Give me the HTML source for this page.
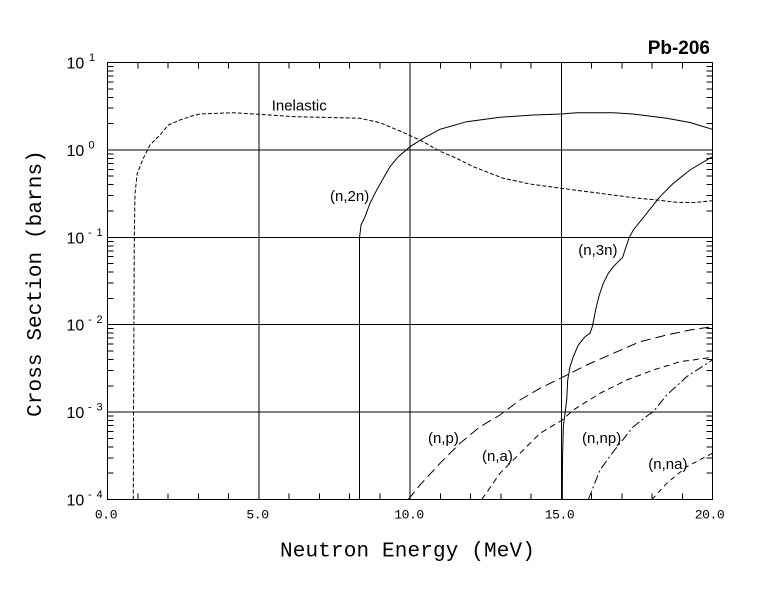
<!DOCTYPE html>
<html>
<head>
<meta charset="utf-8">
<style>
  html,body{margin:0;padding:0;background:#fff;}
  body{width:780px;height:590px;overflow:hidden;}
  svg{display:block;}
  .sans{font-family:"Liberation Sans",Arial,sans-serif;}
  .mono{font-family:"Liberation Mono","DejaVu Sans Mono",monospace;}
</style>
</head>
<body>
<svg width="780" height="590" viewBox="0 0 780 590" xmlns="http://www.w3.org/2000/svg">
  <rect x="0" y="0" width="780" height="590" fill="#fff"/>

  <!-- frame, grid, ticks -->
  <g stroke="#000" stroke-width="1" fill="none" shape-rendering="crispEdges">
    <rect x="107.5" y="62.5" width="605" height="437"/>
    <path d="M258.75 62.5 V499.5 M410 62.5 V499.5 M561.25 62.5 V499.5"/>
    <path d="M107.5 149.9 H712.5 M107.5 237.3 H712.5 M107.5 324.7 H712.5 M107.5 412.1 H712.5"/>
    <path d="M137.75 499.5 v-6 M168 499.5 v-6 M198.25 499.5 v-6 M228.5 499.5 v-6 M289 499.5 v-6 M319.25 499.5 v-6 M349.5 499.5 v-6 M379.75 499.5 v-6 M440.25 499.5 v-6 M470.5 499.5 v-6 M500.75 499.5 v-6 M531 499.5 v-6 M591.5 499.5 v-6 M621.75 499.5 v-6 M652 499.5 v-6 M682.25 499.5 v-6"/>
    <path d="M137.75 62.5 v6 M168 62.5 v6 M198.25 62.5 v6 M228.5 62.5 v6 M289 62.5 v6 M319.25 62.5 v6 M349.5 62.5 v6 M379.75 62.5 v6 M440.25 62.5 v6 M470.5 62.5 v6 M500.75 62.5 v6 M531 62.5 v6 M591.5 62.5 v6 M621.75 62.5 v6 M652 62.5 v6 M682.25 62.5 v6"/>
    <path d="
      M107.5 473.2 h6 M107.5 457.8 h6 M107.5 446.9 h6 M107.5 438.4 h6 M107.5 431.5 h6 M107.5 425.6 h6 M107.5 420.6 h6 M107.5 416.1 h6
      M107.5 385.8 h6 M107.5 370.4 h6 M107.5 359.5 h6 M107.5 351.0 h6 M107.5 344.1 h6 M107.5 338.2 h6 M107.5 333.2 h6 M107.5 328.7 h6
      M107.5 298.4 h6 M107.5 283.0 h6 M107.5 272.1 h6 M107.5 263.6 h6 M107.5 256.7 h6 M107.5 250.8 h6 M107.5 245.8 h6 M107.5 241.3 h6
      M107.5 211.0 h6 M107.5 195.6 h6 M107.5 184.7 h6 M107.5 176.2 h6 M107.5 169.3 h6 M107.5 163.4 h6 M107.5 158.4 h6 M107.5 153.9 h6
      M107.5 123.6 h6 M107.5 108.2 h6 M107.5 97.3 h6 M107.5 88.8 h6 M107.5 81.9 h6 M107.5 76.0 h6 M107.5 71.0 h6 M107.5 66.5 h6"/>
    <path d="
      M712.5 473.2 h-6 M712.5 457.8 h-6 M712.5 446.9 h-6 M712.5 438.4 h-6 M712.5 431.5 h-6 M712.5 425.6 h-6 M712.5 420.6 h-6 M712.5 416.1 h-6
      M712.5 385.8 h-6 M712.5 370.4 h-6 M712.5 359.5 h-6 M712.5 351.0 h-6 M712.5 344.1 h-6 M712.5 338.2 h-6 M712.5 333.2 h-6 M712.5 328.7 h-6
      M712.5 298.4 h-6 M712.5 283.0 h-6 M712.5 272.1 h-6 M712.5 263.6 h-6 M712.5 256.7 h-6 M712.5 250.8 h-6 M712.5 245.8 h-6 M712.5 241.3 h-6
      M712.5 211.0 h-6 M712.5 195.6 h-6 M712.5 184.7 h-6 M712.5 176.2 h-6 M712.5 169.3 h-6 M712.5 163.4 h-6 M712.5 158.4 h-6 M712.5 153.9 h-6
      M712.5 123.6 h-6 M712.5 108.2 h-6 M712.5 97.3 h-6 M712.5 88.8 h-6 M712.5 81.9 h-6 M712.5 76.0 h-6 M712.5 71.0 h-6 M712.5 66.5 h-6"/>
  </g>

  <!-- curves -->
  <g fill="none" stroke="#000" stroke-width="1">
    <polyline stroke-dasharray="4 2" points="133.3,499.5 133.5,420 134,300 134.3,237 135,193.3 137.3,173.3 143.3,158.3 150,145 160,135 168.3,125 180,120 191.7,116 200,114 233,112.7 259.3,114.3 295,116.7 330,117.5 360,118.3 380,122.7 393.3,128.3 400,131 410,135.5 423.3,141.7 440,151.3 456,158 473.3,166.7 503.3,178.3 530,184 561.3,188.3 600,193.3 633.3,197.7 656.7,200 676.7,202.3 695,202.5 712.3,200.7"/>
    <polyline points="359.5,499.5 359.5,238 361,225 365,216.7 370,203.3 376.7,190 383.3,178.3 390,166.7 398.3,156.7 410,146.7 423.3,138.3 440,129.3 466.7,121.7 500,117.3 533.3,115 561.3,114 576.7,112.7 613.3,112.7 633.3,114 666.7,118.3 690,122.5 712.3,129.3"/>
    <polyline points="562.3,499.5 562.5,460 563.3,426.7 566.7,400 567.7,380 570,366.7 573.3,356.7 578.3,345 585,336.7 590,333.3 592.3,326.7 594,318.3 596,308.3 599.3,295 603.3,283.3 608.3,273.3 613.3,266.7 618.3,261.7 622.7,257.3 625,250 629.3,237.3 633.3,230 646.7,213.3 660,196.7 673.3,183.3 690,170 712.3,156.7"/>
    <polyline stroke-dasharray="10 5" points="408.3,499.5 420,485 440,463.3 460,443.3 480,426.7 500,415 520,400 540,388.3 562.3,377.3 586.7,365 613.3,353.3 640,341.7 666.7,335 690,330 712.3,326.7"/>
    <polyline stroke-dasharray="6 4" points="481.7,499.5 500,473.3 520,453.3 540,433.3 562.3,420 573.3,410 600,393.3 626.7,380 653.3,370 680,361.7 712.3,357.3"/>
    <polyline stroke-dasharray="9 3 2 3" points="588.3,499.5 600,470 613.3,451.7 633.3,426.7 648.3,415 653.3,411.7 666.7,395 686.7,376.7 712.3,360"/>
    <polyline stroke-dasharray="5 4" points="652,499.5 666.7,483.3 686.7,466.7 712.3,453.3"/>
  </g>

  <text class="sans" x="710" y="54" text-anchor="end" font-size="19" font-weight="bold">Pb-206</text>

  <g class="sans" font-size="15" fill="#000">
    <text x="271.7" y="110.7">Inelastic</text>
    <text x="330" y="201">(n,2n)</text>
    <text x="578.3" y="255">(n,3n)</text>
    <text x="428" y="443">(n,p)</text>
    <text x="482" y="461">(n,a)</text>
    <text x="582" y="443">(n,np)</text>
    <text x="648.3" y="469">(n,na)</text>
  </g>

  <g class="mono" font-size="13" text-anchor="middle" fill="#000" letter-spacing="-0.4">
    <text x="106" y="518.5">0.0</text>
    <text x="257.5" y="518.5">5.0</text>
    <text x="409" y="518.5">10.0</text>
    <text x="559.5" y="518.5">15.0</text>
    <text x="709.5" y="518.5">20.0</text>
  </g>

  <g class="sans" fill="#000">
    <text x="66.5" y="68.5" font-size="16">10</text>
    <text x="89" y="61" font-size="11">1</text>

    <text x="66.5" y="155.9" font-size="16">10</text>
    <text x="88.5" y="148.4" font-size="11">0</text>

    <text x="66.5" y="243.3" font-size="16">10</text>
    <text x="88" y="235.8" font-size="11">-<tspan x="96.5">1</tspan></text>

    <text x="66.5" y="330.7" font-size="16">10</text>
    <text x="88" y="323.2" font-size="11">-<tspan x="96.5">2</tspan></text>

    <text x="66.5" y="418.1" font-size="16">10</text>
    <text x="88" y="410.6" font-size="11">-<tspan x="96.5">3</tspan></text>

    <text x="66.5" y="505.5" font-size="16">10</text>
    <text x="88" y="498" font-size="11">-<tspan x="96.5">4</tspan></text>
  </g>

  <text class="mono" x="407.5" y="556.5" font-size="21" text-anchor="middle" letter-spacing="0.15">Neutron Energy (MeV)</text>
  <text class="mono" transform="translate(41,283.5) rotate(-90)" x="0" y="0" font-size="21" text-anchor="middle" letter-spacing="0.1">Cross Section (barns)</text>
</svg>
</body>
</html>
